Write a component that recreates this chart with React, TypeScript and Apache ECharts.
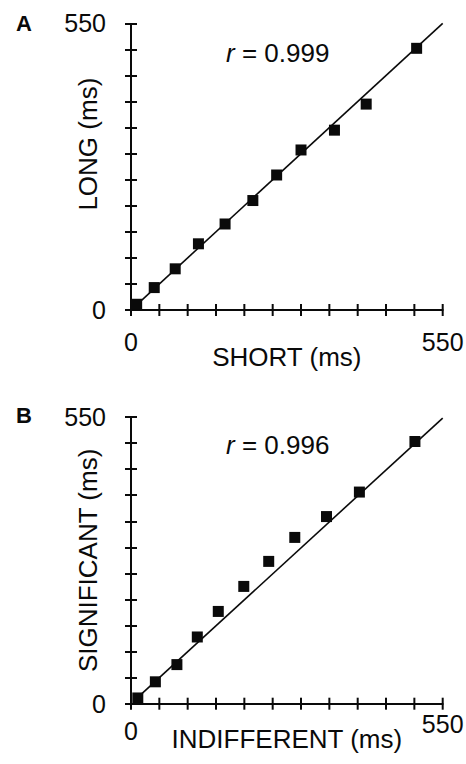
import React, { useEffect, useRef } from "react";
import * as echarts from "echarts";

// Panel A data (ms)
const shortMs = [10, 41, 78, 119, 166, 215, 257, 300, 359, 415, 504];
const longMs = [11, 43, 79, 127, 165, 210, 259, 307, 345, 395, 502];
const fitA = [[10, 10], [550, 550]];

// Panel B data (ms)
const indiffMs = [12, 43, 81, 117, 154, 199, 243, 289, 345, 403, 501];
const signifMs = [11, 42, 75, 128, 177, 225, 273, 319, 359, 406, 503];
const fitB = [[12, 12], [550, 548]];

const axisEnds = [0, 550];
const AXIS_MIN = 0;
const AXIS_MAX = 550;
const AXIS_STEP = 50;
const xTickValues = [0, 50, 100, 150, 200, 250, 300, 350, 400, 450, 500, 550];

const FONT = "'Liberation Sans', Arial, Helvetica, sans-serif";
const INK = "#0a0a0a";
const HALF_TICK = 6;

function zip(a: number[], b: number[]) {
  return a.map((v, i) => [v, b[i]]);
}

export default function App() {
  const ref = useRef<HTMLDivElement>(null);

  useEffect(() => {
    if (!ref.current) return;
    const chart = echarts.init(ref.current, null, { renderer: "svg" });

    const endLabel = (v: number) => (axisEnds.includes(v) ? String(v) : "");

    const common = {
      type: "value",
      min: AXIS_MIN,
      max: AXIS_MAX,
      interval: AXIS_STEP,
      nameMoveOverlap: false,
      splitLine: { show: false },
    };

    const xAxisOf = (gridIndex: number, extra: any) => ({
      ...common,
      gridIndex,
      position: "bottom",
      offset: 0,
      axisLine: { show: true, onZero: false, lineStyle: { color: INK, width: 2 } },
      axisTick: { show: false },
      ...extra,
    });

    // y axis shifted inward by HALF_TICK so its outward ticks straddle the real
    // axis line, which is drawn as a markLine at x = 0.
    const yAxisOf = (gridIndex: number, extra: any) => ({
      ...common,
      gridIndex,
      position: "left",
      offset: -HALF_TICK,
      axisLine: { show: false, onZero: false },
      axisTick: {
        show: true,
        length: HALF_TICK * 2,
        inside: false,
        lineStyle: { color: INK, width: 2 },
      },
      ...extra,
    });

    const labelStyle = { color: INK, fontSize: 25, fontFamily: FONT };
    const nameStyle = { color: INK, fontSize: 26, fontFamily: FONT };

    const yAxisLine = {
      silent: true,
      symbol: "none",
      label: { show: false },
      emphasis: { disabled: true },
      lineStyle: { color: INK, width: 2, type: "solid" },
      data: [[{ coord: [AXIS_MIN, AXIS_MIN] }, { coord: [AXIS_MIN, AXIS_MAX] }]],
    };

    // x-axis tick marks: thin rect symbols placed on the axis through the scales
    const xTickSeries = (idx: number) => ({
      type: "scatter",
      xAxisIndex: idx,
      yAxisIndex: idx,
      data: xTickValues.map((v) => [v, AXIS_MIN]),
      symbol: "rect",
      symbolSize: [2, HALF_TICK * 2],
      clip: false,
      silent: true,
      itemStyle: { color: INK, opacity: 1 },
      emphasis: { disabled: true },
      z: 4,
    });

    const option: any = {
      animation: false,
      backgroundColor: "#ffffff",
      grid: [
        { left: 131, top: 23.3, width: 311.7, height: 286.7, outerBoundsMode: "none" },
        { left: 131, top: 417, width: 311.7, height: 286.7, outerBoundsMode: "none" },
      ],
      xAxis: [
        xAxisOf(0, {
          name: "SHORT (ms)",
          nameLocation: "middle",
          nameGap: 34,
          nameTextStyle: nameStyle,
          axisLabel: { ...labelStyle, margin: 19, interval: 0, formatter: endLabel },
        }),
        xAxisOf(1, {
          name: "INDIFFERENT (ms)",
          nameLocation: "middle",
          nameGap: 22,
          nameTextStyle: nameStyle,
          axisLabel: {
            ...labelStyle,
            margin: 8,
            interval: 0,
            formatter: (v: number) =>
              axisEnds.includes(v) ? (v === 0 ? `{z|${v}}` : `{e|${v}}`) : "",
            rich: {
              z: { ...labelStyle, padding: [7, 0, 0, 0] },
              e: { ...labelStyle },
            },
          },
        }),
      ],
      yAxis: [
        yAxisOf(0, {
          name: "LONG (ms)",
          nameLocation: "middle",
          nameGap: 30 + HALF_TICK,
          nameTextStyle: { ...nameStyle, padding: [0, 0, 0, 45] },
          axisLabel: { ...labelStyle, margin: 25 + HALF_TICK, interval: 0, formatter: endLabel },
        }),
        yAxisOf(1, {
          name: "SIGNIFICANT (ms)",
          nameLocation: "middle",
          nameGap: 30 + HALF_TICK,
          nameTextStyle: nameStyle,
          axisLabel: { ...labelStyle, margin: 25 + HALF_TICK, interval: 0, formatter: endLabel },
        }),
      ],
      series: [
        {
          type: "line",
          xAxisIndex: 0,
          yAxisIndex: 0,
          data: fitA,
          symbol: "none",
          clip: false,
          lineStyle: { color: INK, width: 1.6 },
          markLine: yAxisLine,
          z: 2,
        },
        {
          type: "scatter",
          xAxisIndex: 0,
          yAxisIndex: 0,
          data: zip(shortMs, longMs),
          symbol: "rect",
          symbolSize: 11,
          itemStyle: { color: INK, opacity: 1 },
          z: 3,
        },
        xTickSeries(0),
        {
          type: "line",
          xAxisIndex: 1,
          yAxisIndex: 1,
          data: fitB,
          symbol: "none",
          clip: false,
          lineStyle: { color: INK, width: 1.6 },
          markLine: yAxisLine,
          z: 2,
        },
        {
          type: "scatter",
          xAxisIndex: 1,
          yAxisIndex: 1,
          data: zip(indiffMs, signifMs),
          symbol: "rect",
          symbolSize: 11,
          itemStyle: { color: INK, opacity: 1 },
          z: 3,
        },
        xTickSeries(1),
      ],
      graphic: [
        {
          type: "text",
          left: 16,
          top: 12,
          style: { text: "A", font: `bold 22px ${FONT}`, fill: INK },
        },
        {
          type: "text",
          left: 16,
          top: 404,
          style: { text: "B", font: `bold 22px ${FONT}`, fill: INK },
        },
        {
          type: "text",
          left: 226,
          top: 40,
          style: {
            text: "{i|r} = 0.999",
            fill: INK,
            font: `26px ${FONT}`,
            rich: { i: { fontStyle: "italic", fontSize: 26, fontFamily: FONT, fill: INK } },
          },
        },
        {
          type: "text",
          left: 226,
          top: 432,
          style: {
            text: "{i|r} = 0.996",
            fill: INK,
            font: `26px ${FONT}`,
            rich: { i: { fontStyle: "italic", fontSize: 26, fontFamily: FONT, fill: INK } },
          },
        },
      ],
    };

    chart.setOption(option);
    return () => chart.dispose();
  }, []);

  return (
    <div
      ref={ref}
      style={{ position: "absolute", left: 0, top: 0, width: 466, height: 764 }}
    />
  );
}
